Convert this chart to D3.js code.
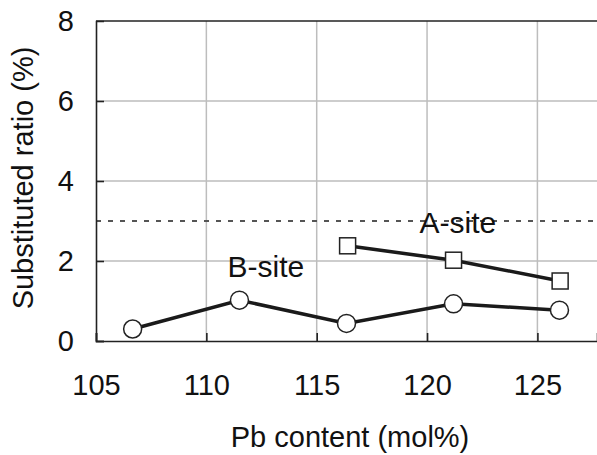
<!DOCTYPE html>
<html>
<head>
<meta charset="utf-8">
<script src="https://cdn.jsdelivr.net/npm/d3@7"></script>
<style>
  body { margin: 0; background: #fff; }
  text { font-family: "Liberation Sans", Arial, sans-serif; fill: #111; }
</style>
</head>
<body>
<div id="chart"></div>
<script>
var bSiteX = [106.66, 111.5, 116.35, 121.2, 126.0];
var bSiteY = [0.30, 1.02, 0.44, 0.93, 0.77];
var aSiteX = [116.4, 121.2, 126.03];
var aSiteY = [2.38, 2.02, 1.50];
var refLine = 3;
var xTicks = [105, 110, 115, 120, 125];
var yTicks = [0, 2, 4, 6, 8];

var width = 597, height = 455;
var margin = { top: 21, right: 0, bottom: 114, left: 96 };

var x = d3.scaleLinear().domain([105, 127.7]).range([margin.left, width - margin.right]);
var y = d3.scaleLinear().domain([0, 8]).range([height - margin.bottom, margin.top]);

var svg = d3.select('#chart')
  .append('svg')
  .attr('width', width)
  .attr('height', height);

// grid
svg.append('g')
  .selectAll('line')
  .data(yTicks.slice(1, -1))
  .enter().append('line')
  .attr('x1', x.range()[0]).attr('x2', x.range()[1])
  .attr('y1', function(d) { return y(d); })
  .attr('y2', function(d) { return y(d); })
  .attr('stroke', '#bdbdbd').attr('stroke-width', 1.5);

svg.append('g')
  .selectAll('line')
  .data(xTicks.slice(1))
  .enter().append('line')
  .attr('x1', function(d) { return x(d); })
  .attr('x2', function(d) { return x(d); })
  .attr('y1', y(0)).attr('y2', y(8))
  .attr('stroke', '#bdbdbd').attr('stroke-width', 1.5);

// dotted reference
svg.append('line')
  .attr('x1', x.range()[0]).attr('x2', x.range()[1])
  .attr('y1', y(refLine)).attr('y2', y(refLine))
  .attr('stroke', '#555').attr('stroke-width', 2)
  .attr('stroke-dasharray', '5,7');

// axes
var xAxis = svg.append('g')
  .attr('transform', 'translate(0,' + y(0) + ')')
  .call(d3.axisBottom(x).tickValues(xTicks).tickSize(-8).tickFormat(d3.format('d')));
var yAxis = svg.append('g')
  .attr('transform', 'translate(' + x(105) + ',0)')
  .call(d3.axisLeft(y).tickValues(yTicks).tickSize(-8).tickPadding(22).tickFormat(d3.format('d')));

[xAxis, yAxis].forEach(function(a) {
  a.select('.domain').attr('stroke', '#222').attr('stroke-width', 1.6);
  a.selectAll('.tick line').attr('stroke', '#222').attr('stroke-width', 1.6);
  a.selectAll('.tick text').style('font-size', '29px').attr('fill', '#111');
});
xAxis.selectAll('.tick text').attr('y', 54).attr('dy', 0);
yAxis.select('.tick:last-of-type line').remove();

svg.append('line')
  .attr('x1', x.range()[0]).attr('x2', x.range()[1])
  .attr('y1', y(8)).attr('y2', y(8))
  .attr('stroke', '#222').attr('stroke-width', 1.6);

// series
var line = d3.line()
  .x(function(d) { return x(d[0]); })
  .y(function(d) { return y(d[1]); });

var bData = d3.zip(bSiteX, bSiteY);
var aData = d3.zip(aSiteX, aSiteY);

svg.append('path')
  .datum(bData)
  .attr('d', line)
  .attr('fill', 'none').attr('stroke', '#1a1a1a').attr('stroke-width', 3.5);
svg.append('path')
  .datum(aData)
  .attr('d', line)
  .attr('fill', 'none').attr('stroke', '#1a1a1a').attr('stroke-width', 3.5);

svg.append('g')
  .selectAll('circle')
  .data(bData)
  .enter().append('circle')
  .attr('cx', function(d) { return x(d[0]); })
  .attr('cy', function(d) { return y(d[1]); })
  .attr('r', 9)
  .attr('fill', '#fff').attr('stroke', '#222').attr('stroke-width', 1.5);

svg.append('g')
  .selectAll('rect')
  .data(aData)
  .enter().append('rect')
  .attr('x', function(d) { return x(d[0]) - 8; })
  .attr('y', function(d) { return y(d[1]) - 8; })
  .attr('width', 16).attr('height', 16)
  .attr('fill', '#fff').attr('stroke', '#222').attr('stroke-width', 1.5);

// labels
svg.append('text')
  .attr('x', x(121.4)).attr('y', 233)
  .attr('text-anchor', 'middle').style('font-size', '30px')
  .text('A-site');
svg.append('text')
  .attr('x', x(112.7)).attr('y', 277)
  .attr('text-anchor', 'middle').style('font-size', '30px')
  .text('B-site');

svg.append('text')
  .attr('x', 350).attr('y', 447)
  .attr('text-anchor', 'middle').style('font-size', '29px')
  .text('Pb content (mol%)');
svg.append('text')
  .attr('transform', 'translate(33,178) rotate(-90)')
  .attr('text-anchor', 'middle').style('font-size', '29px')
  .text('Substituted ratio (%)');
</script>
</body>
</html>
